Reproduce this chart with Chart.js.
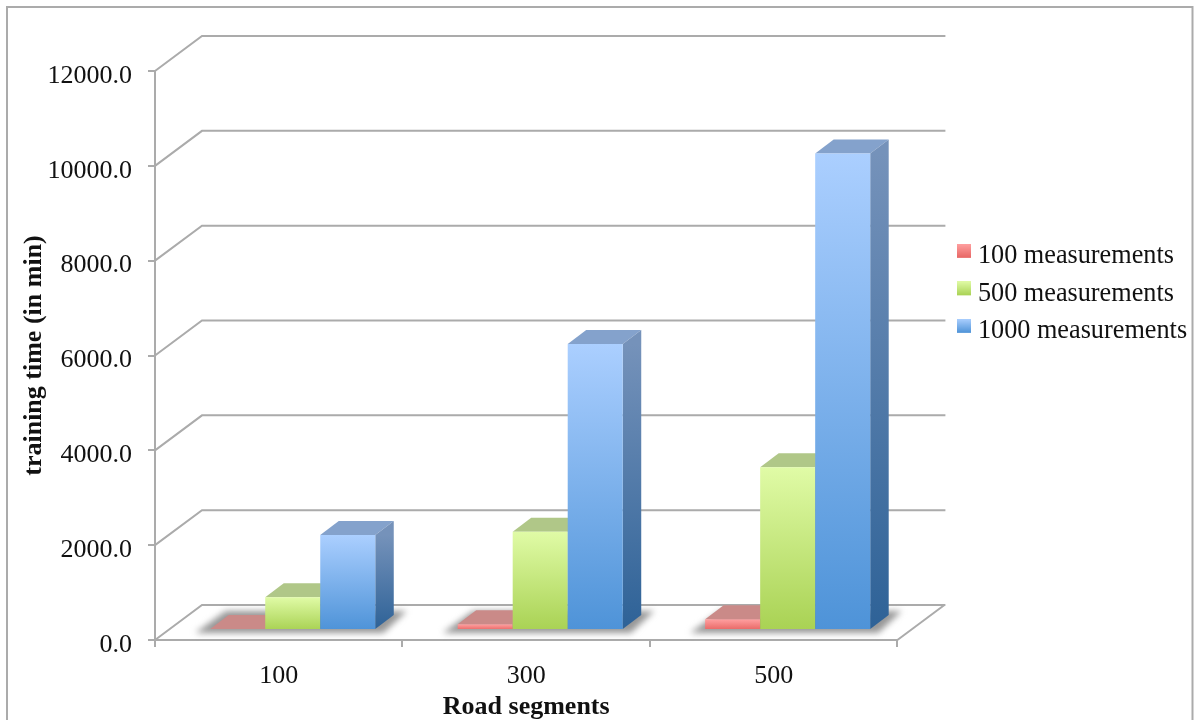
<!DOCTYPE html>
<html>
<head>
<meta charset="utf-8">
<title>Training time</title>
<script src="https://cdn.jsdelivr.net/npm/chart.js@4"></script>
<style>
  html, body { margin: 0; padding: 0; background: #fff; overflow: hidden; }
  canvas { display: block; }
</style>
</head>
<body>
<canvas id="chart" width="1197" height="720"></canvas>
<script>
var categories = ['100', '300', '500'];
var seriesNames = ['100 measurements', '500 measurements', '1000 measurements'];
var values100 = [20, 120, 225];
var values500 = [690, 2070, 3430];
var values1000 = [2005, 6030, 10050];

// colours per series: front gradient, side gradient, top face
var frontColors = [['#ffa0a0', '#e86664'], ['#e0fba6', '#a9d254'], ['#abcfff', '#4e93d8']];
var sideColors = [['#a86060', '#a85050'], ['#8aa060', '#70903c'], ['#7592ba', '#2e6297']];
var topColors = ['#ca8a88', '#b0c788', '#84a2cc'];
var lineColor = '#ababab';

// depth of the box, and of the bars inside it
var wallDx = 47, wallDy = 35;
var barDx = 14, barDy = 10;
var depthDx = 18.5, depthDy = 14;

function barGradient(ctx, seriesIndex) {
    var colors = frontColors[seriesIndex];
    var scale = ctx.chart.scales.y;
    var top = scale.getPixelForValue(ctx.parsed ? ctx.parsed.y : NaN);
    var base = scale.getPixelForValue(0);
    if (!isFinite(top) || !isFinite(base) || top === base) return colors[1];
    var g = ctx.chart.ctx.createLinearGradient(0, top, 0, base);
    g.addColorStop(0, colors[0]);
    g.addColorStop(1, colors[1]);
    return g;
}

// small gradient squares for the legend, lifted above the text's middle
function makeSwatch(i) {
    var c = document.createElement('canvas');
    c.width = 14;
    c.height = 25;
    var x = c.getContext('2d');
    var g = x.createLinearGradient(0, 0, 0, 14);
    g.addColorStop(0, frontColors[i][0]);
    g.addColorStop(1, frontColors[i][1]);
    x.fillStyle = g;
    x.fillRect(0, 0, 14, 14);
    return c;
}

function drawFaces(ctx, meta, index) {
    var side = sideColors[index];
    meta.data.forEach(function (bar) {
        var l = bar.x - bar.width / 2, r = bar.x + bar.width / 2;
        ctx.fillStyle = topColors[index];
        ctx.beginPath();
        ctx.moveTo(l, bar.y);
        ctx.lineTo(l + depthDx, bar.y - depthDy);
        ctx.lineTo(r + depthDx, bar.y - depthDy);
        ctx.lineTo(r, bar.y);
        ctx.closePath();
        ctx.fill();

        var g = ctx.createLinearGradient(0, bar.y, 0, bar.base);
        g.addColorStop(0, side[0]);
        g.addColorStop(1, side[1]);
        ctx.fillStyle = g;
        ctx.beginPath();
        ctx.moveTo(r, bar.y);
        ctx.lineTo(r + depthDx, bar.y - depthDy);
        ctx.lineTo(r + depthDx, bar.base - depthDy);
        ctx.lineTo(r, bar.base);
        ctx.closePath();
        ctx.fill();
    });
}

var box3d = {
    id: 'box3d',
    beforeDraw: function (chart) {
        var ctx = chart.ctx;
        ctx.save();
        ctx.strokeStyle = lineColor;
        ctx.lineWidth = 2;
        ctx.strokeRect(7, 7, 1185.5, 730);
        ctx.restore();
        // legend sits beside the back wall, above the middle of the plot
        chart.legend.left = 951.5;
        chart.legend.right = 1197;
        chart.legend.top = 232;
        chart.legend.bottom = 420;
    },
    beforeDatasetsDraw: function (chart) {
        var ctx = chart.ctx;
        var area = chart.chartArea;
        var y = chart.scales.y;
        ctx.save();
        ctx.strokeStyle = lineColor;
        ctx.lineWidth = 2;
        y.ticks.forEach(function (t) {
            var py = y.getPixelForValue(t.value);
            ctx.beginPath();
            ctx.moveTo(area.left, py);
            ctx.lineTo(area.left + wallDx, py - wallDy);
            ctx.lineTo(area.right + wallDx + 1, py - wallDy);
            ctx.stroke();
        });
        // right edge of the floor
        var floor = y.getPixelForValue(0);
        ctx.beginPath();
        ctx.moveTo(area.right, floor);
        ctx.lineTo(area.right + wallDx, floor - wallDy);
        ctx.stroke();

        // soft shadow under each group of bars
        var first = chart.getDatasetMeta(0).data;
        var last = chart.getDatasetMeta(2).data;
        ctx.filter = 'blur(3px)';
        ctx.fillStyle = '#979797';
        first.forEach(function (bar, i) {
            var left = bar.x - bar.width / 2 + barDx;
            var right = last[i].x + last[i].width / 2 + barDx;
            var base = bar.base - barDy;
            ctx.beginPath();
            ctx.moveTo(left - 15, base + 4);
            ctx.lineTo(right + 8, base + 4);
            ctx.lineTo(right + depthDx + 13, base - depthDy - 4);
            ctx.lineTo(left + depthDx - 3, base - depthDy - 4);
            ctx.closePath();
            ctx.fill();
        });
        ctx.restore();

        // bars stand inside the box, and go left to right so each one
        // covers the side of the one before it
        ctx.save();
        ctx.translate(barDx, -barDy);
        chart.data.datasets.forEach(function (ds, i) {
            var meta = chart.getDatasetMeta(i);
            drawFaces(ctx, meta, i);
            meta.controller.draw();
        });
        ctx.restore();
        return false;
    }
};

var font = { family: '"Liberation Serif", serif', size: 26 };
var legendFont = { family: '"Liberation Serif", serif', size: 26.25 };
var boldFont = { family: '"Liberation Serif", serif', size: 26, weight: 'bold' };

function makeDataset(i, values) {
    return {
        label: seriesNames[i],
        data: values,
        borderWidth: 0,
        backgroundColor: function (ctx) { return barGradient(ctx, i); }
    };
}

new Chart(document.getElementById('chart'), {
    type: 'bar',
    plugins: [box3d],
    data: {
        labels: categories,
        datasets: [makeDataset(0, values100), makeDataset(1, values500), makeDataset(2, values1000)]
    },
    options: {
        responsive: false,
        animation: false,
        layout: { padding: { top: 71, right: 54, bottom: 0, left: 0 } },
        datasets: { bar: { categoryPercentage: 0.667, barPercentage: 1 } },
        plugins: {
            tooltip: { enabled: false },
            legend: {
                position: 'right',
                align: 'start',
                labels: {
                    font: legendFont,
                    color: '#111',
                    padding: 11.25,
                    usePointStyle: true,
                    pointStyleWidth: 2,
                    generateLabels: function (chart) {
                        var items = Chart.defaults.plugins.legend.labels.generateLabels(chart);
                        items.forEach(function (item) { item.pointStyle = makeSwatch(item.datasetIndex); });
                        return items;
                    }
                }
            }
        },
        scales: {
            x: {
                afterFit: function (scale) { scale.height = 80; },
                grid: { drawOnChartArea: false, color: lineColor, lineWidth: 2, tickLength: 7 },
                border: { color: lineColor, width: 2 },
                ticks: { font: font, color: '#111', padding: 14, maxRotation: 0 },
                title: { display: true, text: 'Road segments', font: boldFont, color: '#111', padding: { top: 0, bottom: -3 } }
            },
            y: {
                min: 0,
                max: 12000,
                afterFit: function (scale) {
                    scale.width = 155;
                    // tick text sits a little below the tick marks
                    var drawLabels = scale.drawLabels;
                    scale.drawLabels = function (area) {
                        scale.ctx.save();
                        scale.ctx.translate(0, 2.5);
                        drawLabels.call(scale, area);
                        scale.ctx.restore();
                    };
                },
                grid: { drawOnChartArea: false, color: lineColor, lineWidth: 2, tickLength: 7 },
                border: { color: lineColor, width: 2 },
                ticks: {
                    stepSize: 2000,
                    font: font,
                    color: '#111',
                    padding: 16,
                    callback: function (v) { return v.toFixed(1); }
                },
                title: { display: true, text: 'training time (in min)', font: boldFont, color: '#111', padding: 19 }
            }
        }
    }
});
</script>
</body>
</html>
